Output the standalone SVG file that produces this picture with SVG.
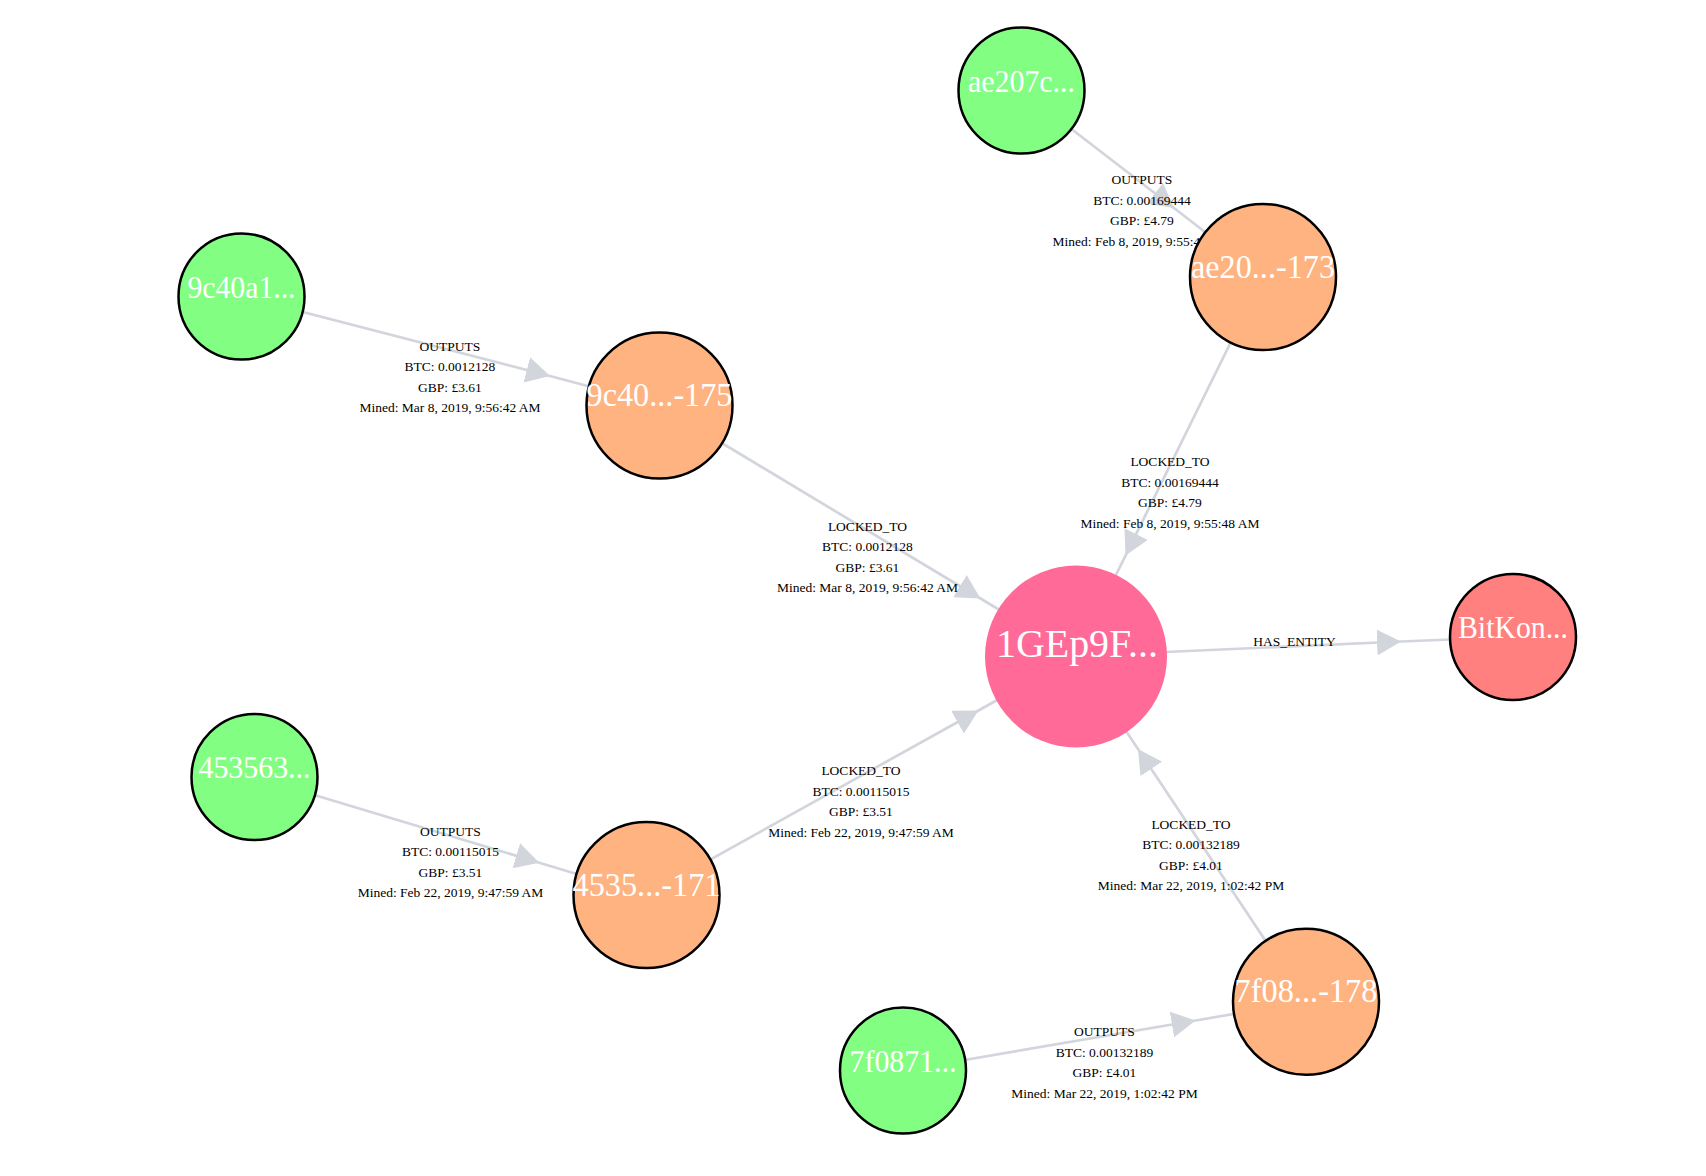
<svg xmlns="http://www.w3.org/2000/svg" width="1706" height="1176" viewBox="0 0 1706 1176">
  <style>
    .edge { fill: none; stroke: #d2d5dc; stroke-width: 2.7; marker-mid: url(#arrow); }
    .elabel { font-family: "Liberation Serif", "Times New Roman", serif; font-size: 13.5px; fill: #000; text-anchor: middle; }
    .node circle { stroke: #000; stroke-width: 2.5; }
    .node text { font-family: "Liberation Serif", "Times New Roman", serif; font-size: 32px; fill: #fff; text-anchor: middle; }
    .tx circle { fill: #82ff82; }
    .out circle { fill: #ffb380; }
    .out text { font-size: 34px; }
    .addr circle { fill: #ff6a99; stroke: none; }
    .addr text { font-size: 41px; }
    .ent circle { fill: #ff807f; }
  </style>
  <defs>
    <marker id="arrow" markerUnits="userSpaceOnUse" markerWidth="25" markerHeight="27" refX="24" refY="13" orient="auto">
      <path d="M0,0 L24,13 L0,26 z" fill="#d2d5dc"/>
    </marker>
  </defs>
  <rect width="1706" height="1176" fill="#fff"/>

  <!-- connectors: source centre -> arrow tip -> target centre -->
  <g id="connectors">
    <path class="edge" d="M241,296 L550,376 L659,405"/>
    <path class="edge" d="M1021.5,90.5 L1174,208 L1263,277"/>
    <path class="edge" d="M1263,277 L1125.5,555.6 L1076,656"/>
    <path class="edge" d="M659.5,405.5 L980.5,598.5 L1076,656"/>
    <path class="edge" d="M254.5,777 L539.3,862.7 L646.5,895"/>
    <path class="edge" d="M646.5,895 L978.5,710.5 L1076,656"/>
    <path class="edge" d="M1306,1001.7 L1138,749 L1076,656"/>
    <path class="edge" d="M903,1070.5 L1195.6,1020.5 L1306,1001.7"/>
    <path class="edge" d="M1076,656 L1401,641.5 L1513,637"/>

    <g class="elabel">
      <text x="450" y="350.5">OUTPUTS</text>
      <text x="450" y="371">BTC: 0.0012128</text>
      <text x="450" y="391.5">GBP: £3.61</text>
      <text x="450" y="412">Mined: Mar 8, 2019, 9:56:42 AM</text>
    </g>
    <g class="elabel">
      <text x="1142" y="184">OUTPUTS</text>
      <text x="1142" y="204.5">BTC: 0.00169444</text>
      <text x="1142" y="225">GBP: £4.79</text>
      <text x="1142" y="245.5">Mined: Feb 8, 2019, 9:55:48 AM</text>
    </g>
    <g class="elabel">
      <text x="1170" y="466">LOCKED_TO</text>
      <text x="1170" y="486.5">BTC: 0.00169444</text>
      <text x="1170" y="507">GBP: £4.79</text>
      <text x="1170" y="527.5">Mined: Feb 8, 2019, 9:55:48 AM</text>
    </g>
    <g class="elabel">
      <text x="867.5" y="530.5">LOCKED_TO</text>
      <text x="867.5" y="551">BTC: 0.0012128</text>
      <text x="867.5" y="571.5">GBP: £3.61</text>
      <text x="867.5" y="592">Mined: Mar 8, 2019, 9:56:42 AM</text>
    </g>
    <g class="elabel">
      <text x="1294.5" y="646">HAS_ENTITY</text>
    </g>
    <g class="elabel">
      <text x="861" y="775">LOCKED_TO</text>
      <text x="861" y="795.5">BTC: 0.00115015</text>
      <text x="861" y="816">GBP: £3.51</text>
      <text x="861" y="836.5">Mined: Feb 22, 2019, 9:47:59 AM</text>
    </g>
    <g class="elabel">
      <text x="450.5" y="835.5">OUTPUTS</text>
      <text x="450.5" y="856">BTC: 0.00115015</text>
      <text x="450.5" y="876.5">GBP: £3.51</text>
      <text x="450.5" y="897">Mined: Feb 22, 2019, 9:47:59 AM</text>
    </g>
    <g class="elabel">
      <text x="1191" y="828.5">LOCKED_TO</text>
      <text x="1191" y="849">BTC: 0.00132189</text>
      <text x="1191" y="869.5">GBP: £4.01</text>
      <text x="1191" y="890">Mined: Mar 22, 2019, 1:02:42 PM</text>
    </g>
    <g class="elabel">
      <text x="1104.5" y="1036">OUTPUTS</text>
      <text x="1104.5" y="1056.5">BTC: 0.00132189</text>
      <text x="1104.5" y="1077">GBP: £4.01</text>
      <text x="1104.5" y="1097.5">Mined: Mar 22, 2019, 1:02:42 PM</text>
    </g>
  </g>

  <!-- transactions -->
  <g id="tx-ae207c" class="node tx"><circle cx="1021.5" cy="90.5" r="63"/><text x="1021.5" y="91.5" textLength="107" lengthAdjust="spacingAndGlyphs">ae207c...</text></g>
  <g id="tx-9c40a1" class="node tx"><circle cx="241.5" cy="296.5" r="63"/><text x="241.5" y="297.5" textLength="108" lengthAdjust="spacingAndGlyphs">9c40a1...</text></g>
  <g id="tx-453563" class="node tx"><circle cx="254.5" cy="777" r="63"/><text x="254.5" y="778" textLength="112" lengthAdjust="spacingAndGlyphs">453563...</text></g>
  <g id="tx-7f0871" class="node tx"><circle cx="903" cy="1070.5" r="63"/><text x="903" y="1071.5" textLength="107" lengthAdjust="spacingAndGlyphs">7f0871...</text></g>

  <!-- outputs -->
  <g id="out-ae20-173" class="node out"><circle cx="1263" cy="277" r="73"/><text x="1263" y="277.5" textLength="144" lengthAdjust="spacingAndGlyphs">ae20...-173</text></g>
  <g id="out-9c40-175" class="node out"><circle cx="659.5" cy="405.5" r="73"/><text x="659.5" y="406" textLength="146" lengthAdjust="spacingAndGlyphs">9c40...-175</text></g>
  <g id="out-4535-171" class="node out"><circle cx="646.5" cy="895" r="73"/><text x="646.5" y="895.5" textLength="148" lengthAdjust="spacingAndGlyphs">4535...-171</text></g>
  <g id="out-7f08-178" class="node out"><circle cx="1306" cy="1001.7" r="73"/><text x="1306" y="1002" textLength="143" lengthAdjust="spacingAndGlyphs">7f08...-178</text></g>

  <!-- address -->
  <g id="addr-1GEp9F" class="node addr"><circle cx="1076" cy="656.5" r="91"/><text x="1077" y="657" textLength="162" lengthAdjust="spacingAndGlyphs">1GEp9F...</text></g>

  <!-- entity -->
  <g id="entity-BitKon" class="node ent"><circle cx="1513" cy="637" r="63"/><text x="1513" y="638" textLength="110" lengthAdjust="spacingAndGlyphs">BitKon...</text></g>
</svg>
